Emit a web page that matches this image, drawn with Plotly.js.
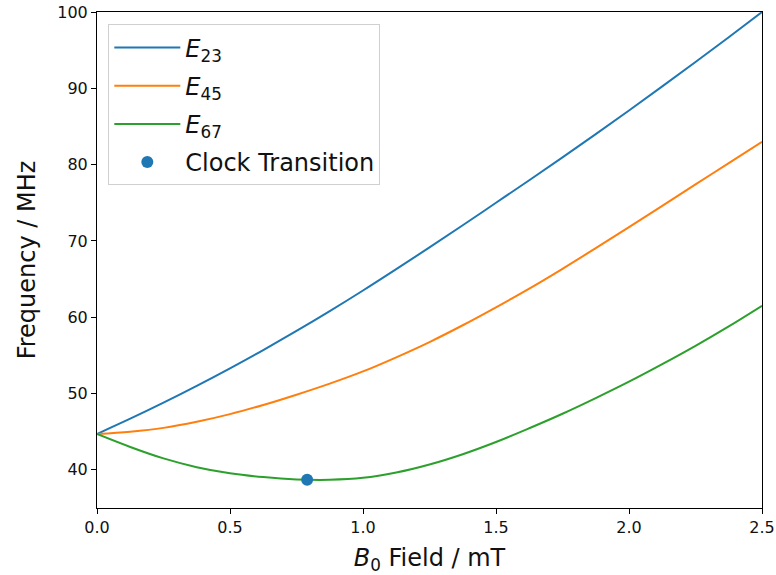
<!DOCTYPE html>
<html>
<head>
<meta charset="utf-8">
<script src="https://cdn.plot.ly/plotly-3.0.1.min.js"></script>
<style>html,body{margin:0;padding:0;background:#fff;}#chart{width:776px;height:575px;}</style>
</head>
<body>
<div id="chart"></div>
<script>
// Field values (mT)
const fieldB = [0, 0.125, 0.25, 0.375, 0.5, 0.625, 0.75, 0.875, 1.0, 1.125, 1.25,
                1.375, 1.5, 1.625, 1.75, 1.875, 2.0, 2.125, 2.25, 2.375, 2.5];
// Frequencies (MHz)
const freqE23 = [44.7, 46.7, 48.8, 51.0, 53.3, 55.7, 58.2, 60.8, 63.5, 66.3, 69.15,
                 72.05, 75.0, 77.95, 80.95, 84.0, 87.1, 90.25, 93.45, 96.7, 100.0];
const freqE45 = [44.7, 45.0, 45.5, 46.3, 47.3, 48.5, 49.85, 51.3, 52.9, 54.75, 56.75,
                 58.95, 61.3, 63.75, 66.35, 69.05, 71.8, 74.6, 77.4, 80.2, 83.0];
const freqE67 = [44.7, 43.0, 41.5, 40.35, 39.55, 39.05, 38.75, 38.7, 38.95, 39.65, 40.7,
                 42.05, 43.65, 45.45, 47.35, 49.4, 51.55, 53.85, 56.25, 58.8, 61.5];
// Clock transition point
const clockB = [0.79];
const clockF = [38.7];

const seriesNames = ['<i>E</i><sub>23</sub>', '<i>E</i><sub>45</sub>', '<i>E</i><sub>67</sub>', 'Clock Transition'];
const colors = ['#1f77b4', '#ff7f0e', '#2ca02c'];
const xTickVals = [0, 0.5, 1.0, 1.5, 2.0, 2.5];
const xTickText = ['0.0', '0.5', '1.0', '1.5', '2.0', '2.5'];
const yTickVals = [40, 50, 60, 70, 80, 90, 100];

const font = 'DejaVu Sans, sans-serif';
const ink = '#111';

const traces = [
  {x: fieldB, y: freqE23, name: seriesNames[0], legendgroup: 'a', mode: 'lines', line: {color: colors[0], width: 2, shape: 'spline', smoothing: 1}},
  {x: fieldB, y: freqE45, name: seriesNames[1], legendgroup: 'b', mode: 'lines', line: {color: colors[1], width: 2, shape: 'spline', smoothing: 1}},
  {x: fieldB, y: freqE67, name: seriesNames[2], legendgroup: 'c', mode: 'lines', line: {color: colors[2], width: 2, shape: 'spline', smoothing: 1}},
  {x: clockB, y: clockF, name: seriesNames[3], legendgroup: 'd', mode: 'markers', marker: {color: colors[0], size: 12}}
];

const axisCommon = {
  showline: true, mirror: true, linecolor: '#000', linewidth: 1,
  ticks: 'outside', ticklen: 5, tickwidth: 1, tickcolor: '#000',
  showgrid: false, zeroline: false,
  tickfont: {family: font, size: 16, color: ink}
};

const layout = {
  width: 776, height: 575,
  margin: {l: 97, r: 14, t: 12, b: 67},
  paper_bgcolor: '#fff', plot_bgcolor: '#fff',
  font: {family: font, color: ink},
  xaxis: Object.assign({}, axisCommon, {
    range: [0, 2.5], tickvals: xTickVals, ticktext: xTickText,
    title: {text: '<i>B</i><sub>0</sub> Field / mT', font: {family: font, size: 24, color: ink}, standoff: 13}
  }),
  yaxis: Object.assign({}, axisCommon, {
    range: [35, 100], tickvals: yTickVals,
    title: {text: 'Frequency / MHz', font: {family: font, size: 24, color: ink}, standoff: 14}
  }),
  showlegend: true,
  legend: {
    x: 0.017, y: 0.975, xanchor: 'left', yanchor: 'top',
    bgcolor: 'rgba(255,255,255,0.8)', bordercolor: '#d0d0d0', borderwidth: 1,
    font: {family: font, size: 24, color: ink},
    traceorder: 'grouped', tracegroupgap: 4, itemwidth: 66
  }
};

Plotly.newPlot('chart', traces, layout, {displayModeBar: false, staticPlot: true});
</script>
</body>
</html>
